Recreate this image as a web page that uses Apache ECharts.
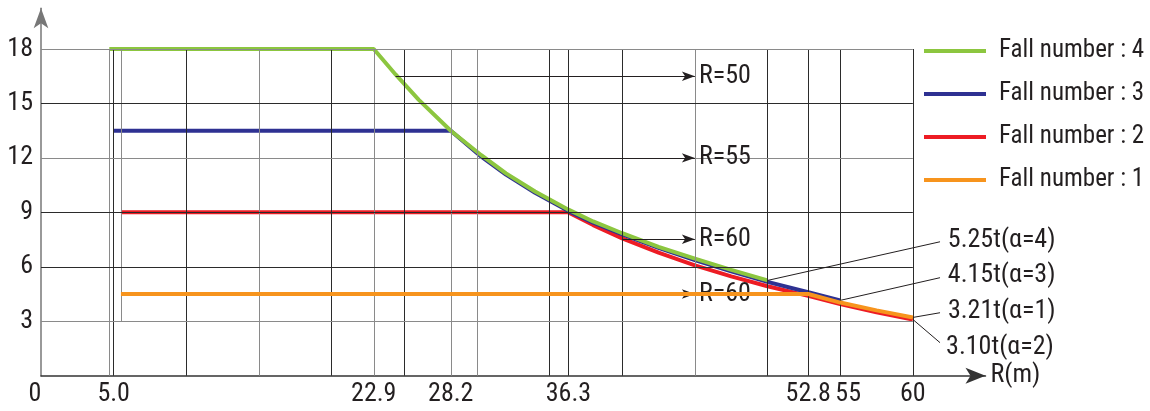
<!DOCTYPE html>
<html><head><meta charset="utf-8">
<script src="https://cdn.jsdelivr.net/npm/echarts@6/dist/echarts.min.js"></script>
<style>html,body{margin:0;padding:0;background:#fff}#c{width:1150px;height:411px}</style>
</head><body><div id="c"></div>
<script>
// ---------- data ----------
const seriesNames = ['Fall number : 4', 'Fall number : 3', 'Fall number : 2', 'Fall number : 1'];
const fall4X = [4.7, 22.9, 24.4, 26, 28.2, 30.3, 32, 34, 36.3, 38, 40, 42.5, 45, 47.5, 50];
const fall4Y = [18, 18, 16.6, 15.2, 13.5, 12.15, 11.15, 10.15, 9.15, 8.5, 7.85, 7.1, 6.45, 5.83, 5.25];
const fall3X = [5.0, 28.2, 30.3, 32, 34, 36.3, 38, 40, 42.5, 45, 47.5, 50, 52.8, 55];
const fall3Y = [13.5, 13.5, 12.07, 11.08, 10.08, 9.07, 8.43, 7.79, 7.04, 6.37, 5.75, 5.17, 4.6, 4.15];
const fall2X = [5.5, 36.3, 38, 40, 42.5, 45, 47.5, 50, 52.8, 55, 57.5, 60];
const fall2Y = [9, 9, 8.3, 7.57, 6.78, 6.08, 5.47, 4.93, 4.4, 3.95, 3.5, 3.1];
const fall1X = [5.5, 52.8, 55, 57.5, 60];
const fall1Y = [4.5, 4.5, 4.03, 3.6, 3.21];

const xTickValues = [0, 5, 22.9, 28.2, 36.3, 52.8, 55, 60];
const xTickLabels = ['0', '5.0', '22.9', '28.2', '36.3', '52.8', '55', '60'];
const yTickValues = [3, 6, 9, 12, 15, 18];
const xGrid = [4.7, 5.0, 5.5, 10, 15, 20, 22.9, 25, 28.2, 30, 35, 36.3, 40, 45, 50, 52.8, 55, 60];
const yGrid = [3, 6, 9, 12, 15, 18];

const arrowLabels = ['R=50', 'R=55', 'R=60', 'R=60'];
const arrowY = [16.5, 12.0, 7.52, 4.5];
const arrowFromX = [24.4, 30.3, 40, 40];
const arrowToX = [45, 45, 45, 45];

const capLabels = ['5.25t(α=4)', '4.15t(α=3)', '3.21t(α=1)', '3.10t(α=2)'];
const capFromX = [50, 55, 60, 60];
const capFromY = [5.25, 4.15, 3.21, 3.10];
const capToX = [61.87, 61.87, 61.87, 61.87];
const capToY = [7.38, 5.40, 3.47, 1.82];

// ---------- styles ----------
const FONT = '"Liberation Sans Narrow", "Arial Narrow", "Roboto Condensed", "Liberation Sans", sans-serif';
const TXT = '#231f20';
const colors = ['#8cc63f', '#2e3192', '#ed1c24', '#f7941d'];
const zOrder = [4, 3, 2, 5];
const grayX = [4.7, 5.5, 15, 22.9, 28.2, 30, 45];
const grayY = [18, 12, 3];
const shortLineBottom = {5.5: 3};

const zip = (xs, ys) => xs.map((x, i) => [x, ys[i]]);
const seriesData = [zip(fall4X, fall4Y), zip(fall3X, fall3Y), zip(fall2X, fall2Y), zip(fall1X, fall1Y)];

const gridLines = [];
xGrid.forEach(x => {
  gridLines.push([{coord: [x, shortLineBottom[x] || 0], lineStyle: {color: grayX.includes(x) ? '#8a8a8a' : '#2b2b2b'}}, {coord: [x, 18]}]);
});
yGrid.forEach(y => {
  gridLines.push([{coord: [0, y], lineStyle: {color: grayY.includes(y) ? '#8a8a8a' : '#2b2b2b'}}, {coord: [60, y]}]);
});

const arrowLines = arrowLabels.map((t, i) => [
  {coord: [arrowFromX[i], arrowY[i]], name: t},
  {coord: [arrowToX[i], arrowY[i]]}
]);
const capLines = capLabels.map((t, i) => [
  {coord: [capFromX[i], capFromY[i]], name: t},
  {coord: [capToX[i], capToY[i]]}
]);

const series = seriesNames.map((n, i) => ({
  name: n, type: 'line', data: seriesData[i], symbol: 'none', z: zOrder[i],
  lineStyle: {color: colors[i], width: 4}, itemStyle: {color: colors[i]},
  silent: true, animation: false
}));

series.push({
  type: 'line', data: [], z: 1, silent: true, animation: false,
  markLine: {
    silent: true, symbol: ['none', 'none'], animation: false,
    lineStyle: {type: 'solid', width: 1}, label: {show: false},
    emphasis: {disabled: true},
    data: gridLines
  }
});
series.push({
  type: 'line', data: [], z: 20, zlevel: 1, silent: true, animation: false,
  markLine: {
    silent: true, symbol: ['none', 'arrow'], symbolSize: [7, 13], animation: false,
    lineStyle: {type: 'solid', width: 1, color: TXT},
    label: {show: true, position: 'end', distance: 4, formatter: p => p.name,
      align: 'left', verticalAlign: 'middle',
      fontFamily: FONT, fontSize: 26, color: TXT},
    emphasis: {disabled: true},
    data: arrowLines
  }
});
series.push({
  type: 'line', data: [], z: 20, zlevel: 1, silent: true, animation: false,
  markLine: {
    silent: true, symbol: ['none', 'none'], animation: false,
    lineStyle: {type: 'solid', width: 1, color: TXT},
    label: {show: true, position: 'end', distance: 8, formatter: p => p.name,
      align: 'left', verticalAlign: 'middle',
      fontFamily: FONT, fontSize: 26, color: TXT},
    emphasis: {disabled: true},
    data: capLines
  }
});

const chart = echarts.init(document.getElementById('c'), null, {renderer: 'canvas'});
chart.setOption({
  animation: false,
  backgroundColor: '#fff',
  grid: {left: 41, right: 164.5, top: 8.2, bottom: 35.3, containLabel: false},
  legend: {
    data: seriesNames, orient: 'vertical', left: 924, top: 38, padding: 0,
    icon: 'rect', itemWidth: 62, itemHeight: 4, itemGap: 17,
    textStyle: {fontFamily: FONT, fontSize: 25, color: TXT, lineHeight: 26, padding: [0, 0, 0, 8]},
    selectedMode: false
  },
  xAxis: {
    type: 'value', min: 0, max: 65,
    name: 'R(m)', nameLocation: 'end', nameGap: 5,
    nameTextStyle: {fontFamily: FONT, fontSize: 26, color: TXT, align: 'left', verticalAlign: 'middle'},
    axisLine: {show: true, lineStyle: {color: '#333', width: 1.5}, symbol: ['none', 'arrow'], symbolSize: [12, 20]},
    axisTick: {show: false},
    splitLine: {show: false},
    axisLabel: {
      customValues: xTickValues, margin: 6,
      fontFamily: FONT, fontSize: 26, color: TXT,
      formatter: v => {
        const i = xTickValues.findIndex(t => Math.abs(t - v) < 1e-6);
        const s = i >= 0 ? xTickLabels[i] : '';
        if (s === '0') return '{l|' + s + '}';
        if (s === '55') return '{r|' + s + '}';
        return s;
      },
      rich: {
        l: {fontFamily: FONT, fontSize: 26, color: TXT, padding: [0, 12, 0, 0]},
        r: {fontFamily: FONT, fontSize: 26, color: TXT, padding: [0, 0, 0, 16]}
      }
    }
  },
  yAxis: {
    type: 'value', min: 0, max: 20.25,
    axisLine: {show: true, lineStyle: {color: '#777', width: 1.5}, symbol: ['none', 'arrow'], symbolSize: [11, 20]},
    axisTick: {show: false},
    splitLine: {show: false},
    axisLabel: {customValues: yTickValues, margin: 8, fontFamily: FONT, fontSize: 26, color: TXT}
  },
  series: series
});
</script>
</body></html>
